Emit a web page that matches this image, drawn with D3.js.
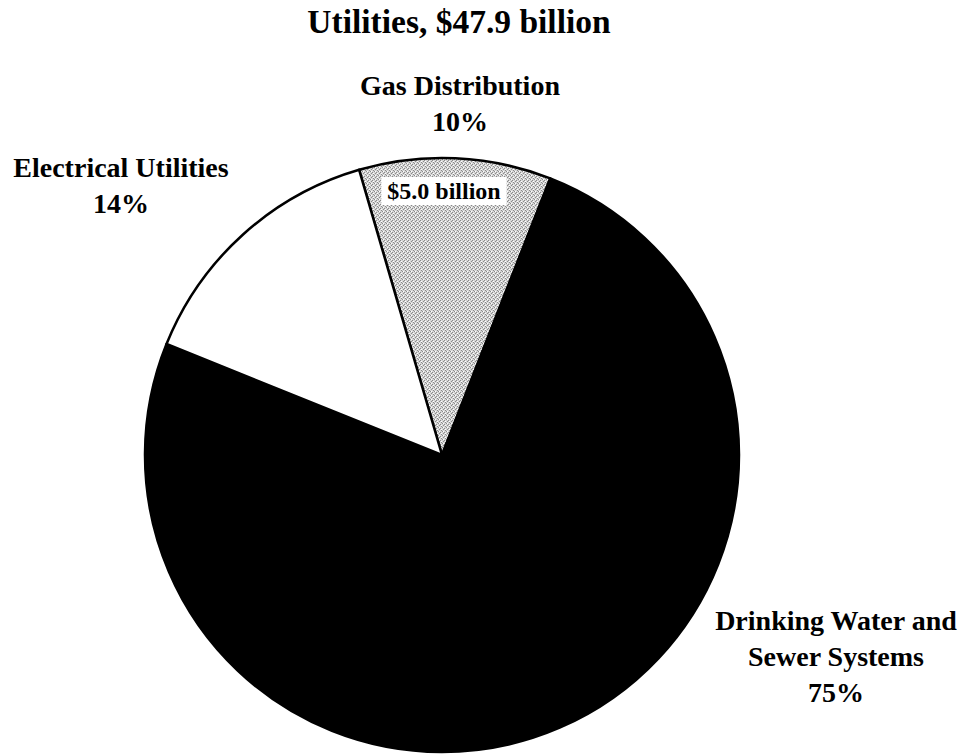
<!DOCTYPE html>
<html>
<head>
<meta charset="utf-8">
<script src="https://cdn.jsdelivr.net/npm/d3@7"></script>
<style>
html,body{margin:0;padding:0;background:#fff;}
svg{display:block;}
text{font-family:"Liberation Serif","Times New Roman",serif;font-weight:bold;fill:#000;}
</style>
</head>
<body>
<svg id="chart" width="961" height="754"></svg>
<script>
const title = "Utilities, $47.9 billion";
const categories = ["Gas Distribution", "Drinking Water and Sewer Systems", "Electrical Utilities"];
const values = [5.0, 36.0, 6.9];          // $ billion
const percentLabels = ["10%", "75%", "14%"];
const labelLines = [["Gas Distribution"], ["Drinking Water and", "Sewer Systems"], ["Electrical Utilities"]];
const insideLabel = "$5.0 billion";

const W = 961, H = 754;
const cx = 442, cy = 455, r = 297;
const startDeg = -16.2;

const svg = d3.select("#chart");
const defs = svg.append("defs");
const pat = defs.append("pattern").attr("id","dither").attr("patternUnits","userSpaceOnUse")
  .attr("width",4).attr("height",4);
pat.append("rect").attr("width",4).attr("height",4).attr("fill","#d6d6d6");
[[0,0],[2,1],[1,2],[3,3]].forEach(p=>pat.append("rect").attr("x",p[0]).attr("y",p[1]).attr("width",1).attr("height",1).attr("fill","#8a8a8a"));
[[1,0],[3,2]].forEach(p=>pat.append("rect").attr("x",p[0]).attr("y",p[1]).attr("width",1).attr("height",1).attr("fill","#ffffff"));

const fills = ["url(#dither)", "#000000", "#ffffff"];

svg.append("text").attr("x", 459).attr("y", 33).attr("text-anchor","middle")
  .style("font-size","33.5px").text(title);

const pie = d3.pie().sort(null).value(d=>d)
  .startAngle(startDeg*Math.PI/180).endAngle(startDeg*Math.PI/180 + 2*Math.PI);
const arcs = pie(values);
const arc = d3.arc().innerRadius(0).outerRadius(r);

const g = svg.append("g").attr("transform",`translate(${cx},${cy})`);
g.selectAll("path").data(arcs).join("path")
  .attr("d", arc)
  .attr("fill", (d,i)=>fills[i])
  .attr("stroke","#000").attr("stroke-width",2.5).attr("stroke-linejoin","round");

// inside label with white box
const lab = g.append("g");
const lt = lab.append("text").attr("x", 444-cx).attr("y", 199-cy).attr("text-anchor","middle")
  .style("font-size","24px").text(insideLabel);
const bb = lt.node().getBBox();
lab.insert("rect","text").attr("x",bb.x-6).attr("y",bb.y-1).attr("width",bb.width+12).attr("height",bb.height+2).attr("fill","#fff");

// outer labels
const labelPos = [
  {x:460, y:95},
  {x:836, y:630},
  {x:121, y:177}
];
const lh = 36;
labelLines.forEach((lines,i)=>{
  const t = svg.append("text").attr("text-anchor","middle").style("font-size","28px");
  lines.concat([percentLabels[i]]).forEach((s,j)=>{
    t.append("tspan").attr("x", labelPos[i].x).attr("y", labelPos[i].y + j*lh).text(s);
  });
});
</script>
</body>
</html>
